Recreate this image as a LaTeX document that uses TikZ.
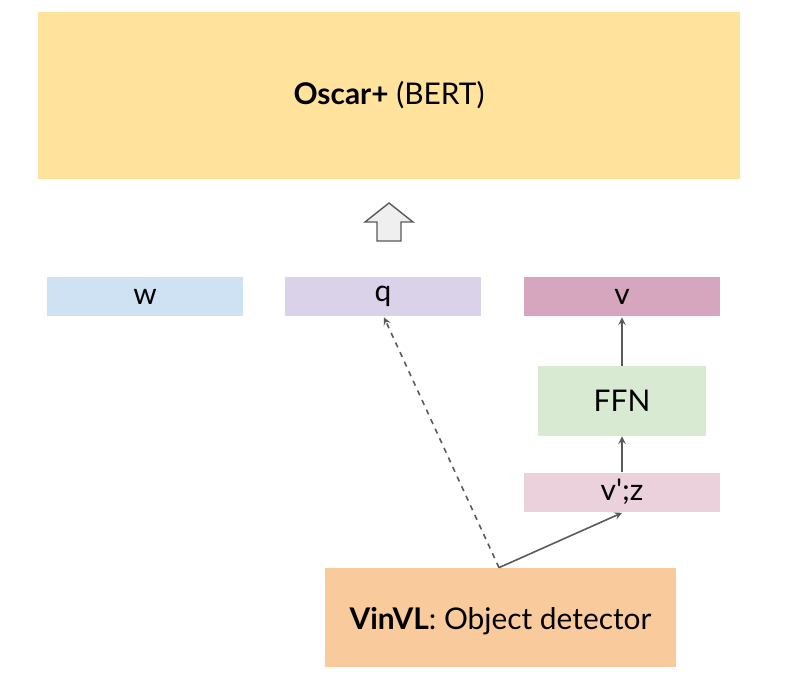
\documentclass[tikz,border=0pt]{standalone}
\usepackage{fontspec}
\setmainfont{Lato}
\usepackage{xcolor}
\usetikzlibrary{shapes,arrows,positioning,fit,calc}

\definecolor{oscarcol}{HTML}{FFE29B}
\definecolor{wcol}{HTML}{CFE2F3}
\definecolor{qcol}{HTML}{D9D2E9}
\definecolor{vcol}{HTML}{D5A6BD}
\definecolor{ffncol}{HTML}{D9EAD3}
\definecolor{vzcol}{HTML}{EAD1DC}
\definecolor{vinvlcol}{HTML}{F9CB9C}
\definecolor{linecol}{HTML}{595959}
\definecolor{upcol}{HTML}{EFEFEF}

\tikzset{
    block/.style={inner sep=0pt, minimum width=196*0.02cm, minimum height=39*0.02cm, font=\fontsize{17}{20}\selectfont},
    conn/.style={draw=linecol, line width=0.9pt, -stealth}
}

\begin{document}
\begin{tikzpicture}[x=0.02cm, y=-0.02cm]
    \useasboundingbox (0,0) rectangle (798,687);

    \node[fill=oscarcol, inner sep=0pt, minimum width=702*0.02cm, minimum height=167*0.02cm,
          font=\fontsize{17}{20}\selectfont] (oscar) at (389,95.5) {\textbf{Oscar+} (BERT)};

    % upward block arrow
    \draw[linecol, fill=upcol, line width=0.8pt]
        (377,241) -- (377,222) -- (365,222) -- (389,203) -- (413,222) -- (401,222) -- (401,241) -- cycle;

    \node[block, fill=wcol] (w) at (145,296.5) {w};
    \node[block, fill=qcol] (q) at (383,296.5) {q};
    \node[block, fill=vcol] (v) at (622,296.5) {v};

    \node[block, fill=ffncol, minimum width=168*0.02cm, minimum height=70*0.02cm] (ffn) at (622,401) {FFN};
    \node[block, fill=vzcol] (vz) at (622,492) {v\textquotesingle;z};

    \node[fill=vinvlcol, inner sep=0pt, minimum width=351*0.02cm, minimum height=99*0.02cm] (vinvl) at (500.5,617.5) {};
    \node[font=\fontsize{17}{20}\selectfont] (vinvltext) at ($(vinvl.center)+(0,4)$) {\textbf{VinVL}: Object detector};

    \coordinate (src) at ($(vinvl.north)+(-1.5,0)$);
    \draw[conn, dashed] (src) -- ($(q.south)+(1,1)$);
    \draw[conn] (src) -- ($(vz.south)+(0,1)$);
    \draw[conn] (vz.north) -- (ffn.south);
    \draw[conn] (ffn.north) -- ($(v.south)+(0,1)$);
\end{tikzpicture}
\end{document}
